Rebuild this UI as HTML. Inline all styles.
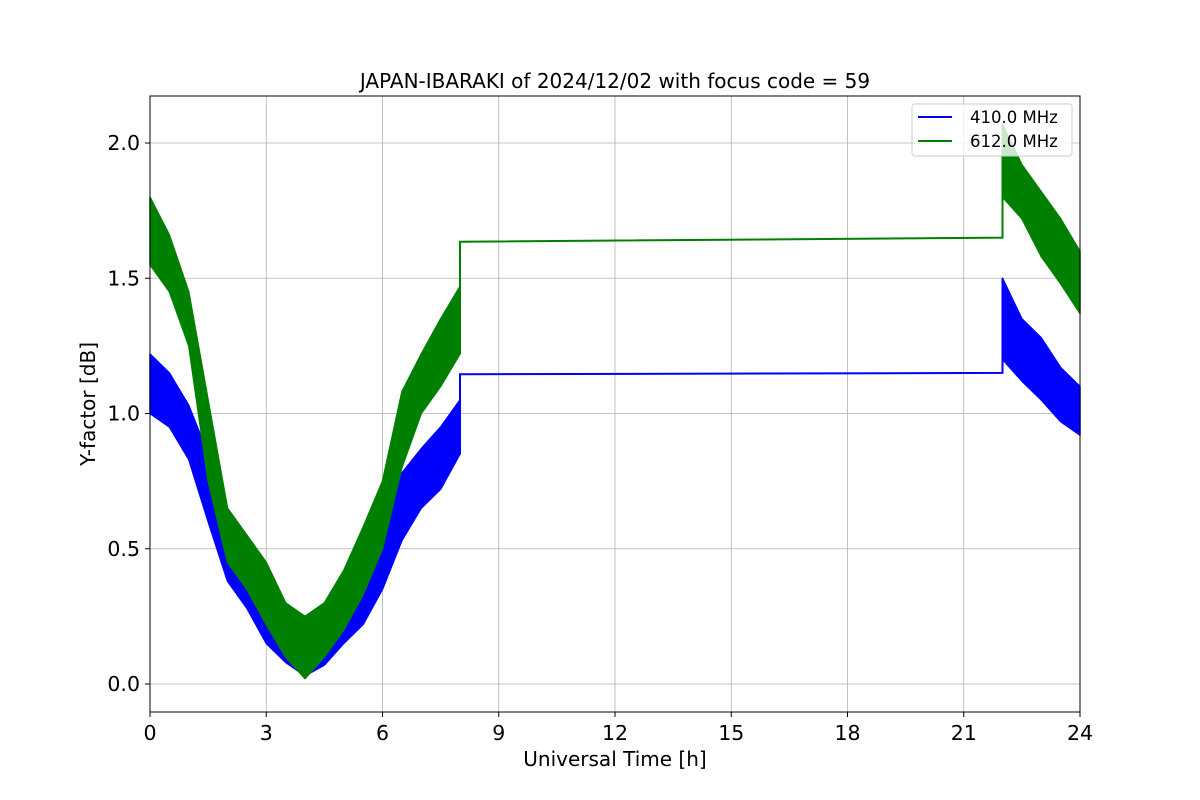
<!DOCTYPE html>
<html><head><meta charset="utf-8"><style>
html,body{margin:0;padding:0;background:#fff;}
svg{display:block;font-family:"DejaVu Sans","Liberation Sans",sans-serif;}
</style></head><body>
<svg id="chart" width="1200" height="800" viewBox="0 0 1200 800">
<rect width="1200" height="800" fill="#fff"/>
<g id="grid"></g>
<g id="series"></g>
<rect x="150" y="96" width="930" height="616" fill="none" stroke="#000" stroke-width="1"/>
<g id="ticks"></g>
<text x="615" y="88" text-anchor="middle" font-size="20">JAPAN-IBARAKI of 2024/12/02 with focus code = 59</text>
<text x="615" y="766" text-anchor="middle" font-size="20">Universal Time [h]</text>
<text x="95" y="404" text-anchor="middle" font-size="20" transform="rotate(-90 95 404)">Y-factor [dB]</text>
<g>
<rect x="912" y="104" width="160" height="52" rx="3" fill="#fff" fill-opacity="0.8" stroke="#ccc"/>
<line x1="918" y1="117" x2="952" y2="117" stroke="#0000ff" stroke-width="2"/>
<text x="970" y="123" font-size="16.5">410.0 MHz</text>
<line x1="918" y1="141" x2="952" y2="141" stroke="#008000" stroke-width="2"/>
<text x="970" y="147" font-size="16.5">612.0 MHz</text>
</g>
</svg>
<script>
const xTicks=[0,3,6,9,12,15,18,21,24];
const yTicks=[0.0,0.5,1.0,1.5,2.0];
const tA=[0,0.5,1,1.5,2,2.5,3,3.5,4,4.5,5,5.5,6,6.5,7,7.5,8];
const tB=[22,22.5,23,23.5,24];
const blueHiA=[1.22,1.15,1.03,0.85,0.62,0.48,0.38,0.28,0.25,0.27,0.35,0.42,0.60,0.78,0.87,0.95,1.05];
const blueLoA=[1.00,0.95,0.83,0.60,0.38,0.28,0.15,0.08,0.03,0.07,0.15,0.22,0.35,0.53,0.65,0.72,0.85];
const blueHiB=[1.50,1.35,1.28,1.17,1.10];
const blueLoB=[1.20,1.12,1.05,0.97,0.92];
const blueFlat=[1.145,1.15];
const greenHiA=[1.80,1.66,1.45,1.05,0.65,0.55,0.45,0.30,0.25,0.30,0.42,0.58,0.75,1.08,1.22,1.35,1.47];
const greenLoA=[1.55,1.45,1.25,0.75,0.45,0.35,0.22,0.10,0.02,0.10,0.20,0.33,0.50,0.80,1.00,1.10,1.22];
const greenHiB=[2.07,1.92,1.82,1.72,1.60];
const greenLoB=[1.80,1.72,1.58,1.48,1.37];
const greenFlat=[1.635,1.65];
const X=v=>150+v*930/24, Y=v=>684-v*270.5;
const NS="http://www.w3.org/2000/svg";
const grid=document.getElementById('grid'),ticks=document.getElementById('ticks'),ser=document.getElementById('series');
function mk(tag,attrs,parent){const e=document.createElementNS(NS,tag);for(const k in attrs)e.setAttribute(k,attrs[k]);parent.appendChild(e);return e;}
xTicks.forEach(t=>{
 const g=mk('line',{x1:X(t),x2:X(t),y1:96,y2:712,stroke:'#b0b0b0','stroke-width':0.8},grid);
 
 
 const k=mk('line',{x1:X(t),x2:X(t),y1:712,y2:717,stroke:'#000'},ticks);
 
 
 const l=mk('text',{x:X(t),y:740,'text-anchor':'middle','font-size':20.5},ticks);l.textContent=t;
 
 
});
yTicks.forEach(t=>{
 const g=mk('line',{x1:150,x2:1080,y1:Y(t),y2:Y(t),stroke:'#b0b0b0','stroke-width':0.8},grid);
 
 
 const k=mk('line',{x1:145,x2:150,y1:Y(t),y2:Y(t),stroke:'#000'},ticks);
 
 
 const l=mk('text',{x:140,y:Y(t)+7,'text-anchor':'end','font-size':20.5},ticks);l.textContent=t.toFixed(1);
 
 
});
function band(ts,hi,lo,col,name){
 let pts=ts.map((t,i)=>X(t)+','+Y(hi[i]));
 for(let i=ts.length-1;i>=0;i--)pts.push(X(ts[i])+','+Y(lo[i]));
 const p=mk('polygon',{points:pts.join(' '),fill:col,stroke:col,'stroke-width':1.5,'stroke-linejoin':'round'},ser);
 
 
}
function flat(hiA,loA,fl,hiB,loB,col,name){
 const d='M'+X(tA[tA.length-1])+','+Y(loA[loA.length-1])+' L'+X(8)+','+Y(fl[0])+' L'+X(22)+','+Y(fl[1])+' L'+X(22)+','+Y(hiB[0]);
 const p=mk('path',{d:d,fill:'none',stroke:col,'stroke-width':2},ser);
 
 
}
band(tA,blueHiA,blueLoA,'#0000ff','series-410-early');
flat(blueHiA,blueLoA,blueFlat,blueHiB,blueLoB,'#0000ff','series-410-flat');
band(tB,blueHiB,blueLoB,'#0000ff','series-410-late');
band(tA,greenHiA,greenLoA,'#008000','series-612-early');
flat(greenHiA,greenLoA,greenFlat,greenHiB,greenLoB,'#008000','series-612-flat');
band(tB,greenHiB,greenLoB,'#008000','series-612-late');
</script>
</body></html>
